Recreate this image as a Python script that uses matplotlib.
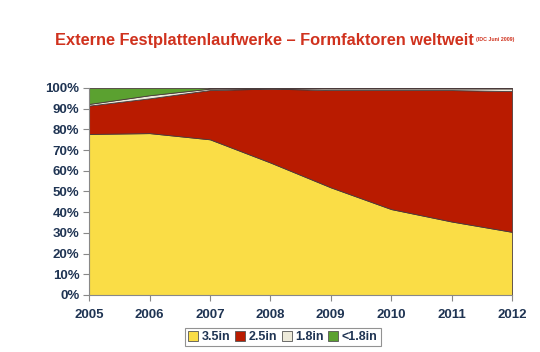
import numpy as np
import matplotlib.pyplot as plt
from matplotlib.patches import Patch
from matplotlib.ticker import FuncFormatter

years = [2005, 2006, 2007, 2008, 2009, 2010, 2011, 2012]
s35 = [77.8, 78.2, 75.2, 64.0, 52.0, 41.5, 35.5, 30.5]
s25 = [13.7, 16.8, 23.8, 35.7, 47.0, 57.5, 63.5, 68.0]
s18 = [0.8, 1.5, 0.7, 0.2, 0.8, 0.8, 0.8, 1.3]
s_small = [7.7, 3.5, 0.3, 0.1, 0.2, 0.2, 0.2, 0.2]
labels = ["3.5in", "2.5in", "1.8in", "<1.8in"]
colors = ["#FADD46", "#B91B00", "#EDEADA", "#5BA130"]

navy = "#1F3453"
plt.rcParams['font.family'] = ['Liberation Sans', 'DejaVu Sans']

fig = plt.figure(figsize=[5.4, 3.52], dpi=100)
ax = fig.add_axes([0.165, 0.162, 0.783, 0.588])

ax.stackplot(years, s35, s25, s18, s_small, colors=colors,
             edgecolor="#4a3a3a", linewidth=0.6)

ax.set_xlim(2005, 2012)
ax.set_ylim(0, 100)
ax.set_xticks(years)
ax.set_yticks(np.arange(0, 101, 10))
ax.yaxis.set_major_formatter(FuncFormatter(lambda v, p: "{:d}%".format(int(v))))
for lab in ax.get_xticklabels() + ax.get_yticklabels():
    lab.set_fontweight("bold")
    lab.set_color(navy)
    lab.set_fontsize(9.5)
ax.tick_params(axis="both", direction="out", length=4, color="#888888", width=0.8)
ax.tick_params(axis="x", pad=6)
ax.tick_params(axis="y", pad=3)
for side in ["top", "right"]:
    ax.spines[side].set_visible(False)
for side in ["left", "bottom"]:
    ax.spines[side].set_color("#888888")
    ax.spines[side].set_linewidth(0.8)

# title + tiny source note right after it
fig.text(0.102, 0.886, "Externe Festplattenlaufwerke \u2013 Formfaktoren weltweit",
         ha="left", va="center", fontsize=11.8, fontweight="bold", color="#D0321E")
fig.text(0.882, 0.889, "(IDC Juni 2009)", ha="left", va="center",
         fontsize=3.8, fontweight="bold", color="#D0321E")

handles = [Patch(facecolor=c, edgecolor="#555555", linewidth=0.6) for c in colors]
leg = fig.legend(handles, labels, loc="center", bbox_to_anchor=(0.524, 0.042),
                 ncol=4, frameon=True, fancybox=False, fontsize=9,
                 handlelength=0.8, handleheight=0.8, handletextpad=0.3,
                 columnspacing=0.35, borderpad=0.25, borderaxespad=0)
leg.get_frame().set_edgecolor("#777777")
leg.get_frame().set_linewidth(0.8)
for t in leg.get_texts():
    t.set_fontweight("bold")
    t.set_color(navy)

fig.savefig("out.png", dpi=100)
